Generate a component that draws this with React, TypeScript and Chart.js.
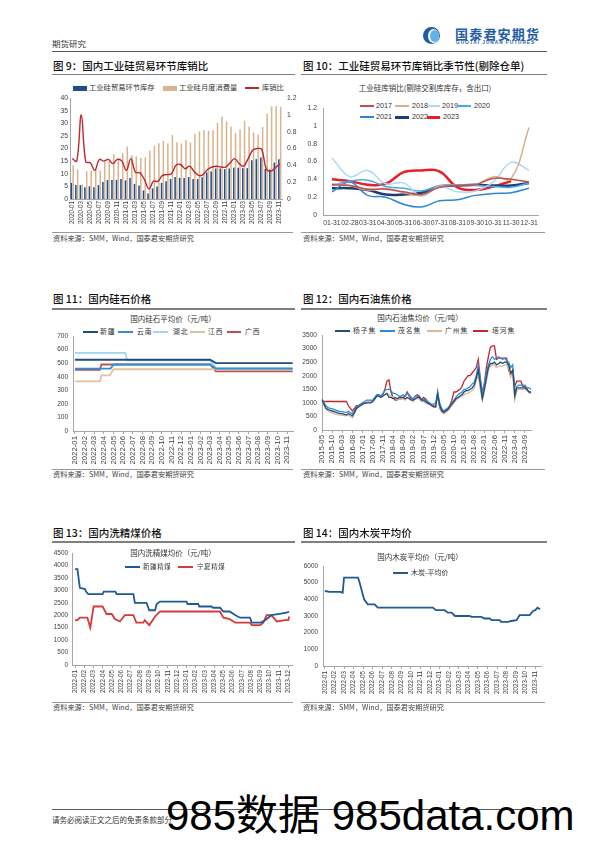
import React, { useEffect, useRef } from 'react';
import { Chart, registerables } from 'chart.js';
Chart.register(...registerables);

const NUM = "'Liberation Sans', Arial, sans-serif";
const CJK = "'Noto Sans CJK SC', 'Liberation Sans', sans-serif";
const AXIS = '#404040';
const BORDER = '#a6a6a6';

function monthSeq(y: number, m: number, n: number): string[] {
  const out: string[] = [];
  for (let i = 0; i < n; i++) {
    const t = m - 1 + i;
    out.push(`${y + Math.floor(t / 12)}-${String((t % 12) + 1).padStart(2, '0')}`);
  }
  return out;
}
function monthIdx(d: string, baseYear: number): number {
  const [y, m, day] = d.split('-').map(Number);
  const dim = new Date(y, m, 0).getDate();
  return (y - baseYear) * 12 + (m - 1) + (day - 1) / dim;
}
function pts(dates: string[], vals: number[]) {
  return dates.map((d, i) => ({ x: monthIdx(d, 2022), y: vals[i] }));
}

// ---------------- Chart 9 ----------------
const c9Months = monthSeq(2020, 1, 47);
const c9Inventory = [6.4, 5.5, 5.5, 4.7, 5.0, 4.7, 5.5, 6.7, 7.5, 7.5, 7.6, 7.9, 7.4, 8.3, 6.0, 5.3, 3.4, 2.2, 4.2, 5.0, 6.4, 7.0, 7.9, 8.7, 8.4, 8.3, 8.7, 7.9, 7.9, 8.6, 10.5, 10.9, 12.1, 12.1, 11.8, 12.1, 12.4, 12.4, 12.2, 12.2, 15.3, 15.8, 16.4, 12.0, 11.7, 14.4, 15.7];
const c9Consumption = [13.4, 11.7, 5.7, 11.0, 11.2, 11.5, 11.3, 14.7, 15.2, 17.8, 16.0, 18.2, 20.8, 17.3, 16.9, 16.3, 16.5, 19.2, 21.1, 22.1, 23.0, 22.1, 25.4, 22.5, 22.0, 23.4, 22.4, 25.8, 26.8, 27.3, 27.0, 27.2, 30.2, 32.6, 30.8, 28.7, 26.2, 27.6, 31.0, 28.7, 26.3, 25.5, 28.5, 33.8, 36.7, 36.8, 36.5];
const c9Ratio = [0.48, 0.45, 1.0, 0.44, 0.43, 0.34, 0.47, 0.45, 0.47, 0.42, 0.47, 0.45, 0.34, 0.48, 0.32, 0.31, 0.23, 0.12, 0.21, 0.21, 0.28, 0.29, 0.30, 0.40, 0.41, 0.36, 0.39, 0.33, 0.28, 0.29, 0.35, 0.38, 0.39, 0.38, 0.38, 0.43, 0.48, 0.42, 0.39, 0.48, 0.58, 0.60, 0.59, 0.36, 0.33, 0.37, 0.42];

// ---------------- Chart 10 ----------------
const c10Labels = ['01-31', '02-28', '03-31', '04-30', '05-31', '06-30', '07-31', '08-31', '09-30', '10-31', '11-30', '12-31'];
const c10Y2017 = [0.34, 0.33, 0.29, 0.29, 0.26, 0.23, 0.31, 0.33, 0.34, 0.41, 0.40, 0.37];
const c10Y2018 = [0.35, 0.33, 0.28, 0.30, 0.25, 0.22, 0.32, 0.33, 0.34, 0.43, 0.41, 0.98];
const c10Y2019 = [0.64, 0.43, 0.50, 0.35, 0.36, 0.21, 0.32, 0.26, 0.27, 0.37, 0.59, 0.50];
const c10Y2020 = [0.33, 0.38, 0.39, 0.32, 0.30, 0.27, 0.33, 0.34, 0.33, 0.32, 0.31, 0.36];
const c10Y2021 = [0.26, 0.37, 0.22, 0.20, 0.12, 0.09, 0.16, 0.17, 0.22, 0.24, 0.25, 0.30];
const c10Y2022 = [0.30, 0.30, 0.28, 0.23, 0.23, 0.25, 0.32, 0.33, 0.34, 0.33, 0.33, 0.36];
const c10Y2023 = [0.40, 0.38, 0.34, 0.35, 0.48, 0.50, 0.49, 0.31, 0.28, 0.32, 0.38, null];

// ---------------- Chart 11 ----------------
const c11Ticks = monthSeq(2022, 1, 23);
const c11XinjiangDates = ['2022-01-01', '2023-03-01', '2023-03-20', '2023-11-18'];
const c11XinjiangVals = [525, 525, 500, 500];
const c11YunnanDates = ['2022-01-01', '2022-04-22', '2022-05-01', '2023-03-01', '2023-03-20', '2023-11-18'];
const c11YunnanVals = [460, 460, 490, 490, 460, 460];
const c11HubeiDates = ['2022-01-01', '2022-06-07', '2022-06-14', '2023-03-01', '2023-03-20', '2023-11-18'];
const c11HubeiVals = [575, 575, 520, 520, 465, 465];
const c11JiangxiDates = ['2022-01-01', '2022-03-19', '2022-03-24', '2022-04-19', '2022-05-01', '2023-11-18'];
const c11JiangxiVals = [365, 365, 410, 410, 455, 455];
const c11GuangxiDates = ['2022-01-01', '2022-03-19', '2022-03-24', '2023-03-01', '2023-03-20', '2023-11-18'];
const c11GuangxiVals = [450, 450, 490, 490, 440, 440];

// ---------------- Chart 12 ----------------
const c12Months = monthSeq(2015, 5, 104);
const c12Yangzi = [1100, 950, 800, 750, 720, 700, 680, 650,
  620, 600, 600, 580, 560, 600, 560, 520, 650, 800, 850, 900,
  950, 980, 1000, 1000, 1000, 1050, 1150, 1250, 1250, 1200, 1250, 1300,
  1350, 1200, 1200, 1150, 1200, 1150, 1200, 1200, 1200, 1150, 1200, 1150,
  1100, 1100, 1150, 1200, 1200, 1100, 1100, 1050, 1000, 950, 900, 850,
  850, 1300, 900, 700, 650, 700, 750, 850, 950, 1050, 1150, 1200,
  1250, 1300, 1400, 1450, 1450, 1500, 1550, 1650, 1900, 2200, 1700, 1150,
  1500, 1900, 2300, 2450, 2450, 2500, 2400, 2450, 2500, 2450, 2500, 2500,
  2400, 2100, 2200, 1250, 1550, 1550, 1550, 1550, 1550, 1500, 1400, 1400];
const c12Maoming = [1150, 1000, 880, 820, 800, 780, 760, 720,
  700, 680, 680, 660, 650, 680, 640, 600, 700, 850, 900, 950,
  1000, 1050, 1100, 1100, 1100, 1100, 1200, 1300, 1300, 1250, 1350, 1450,
  1500, 1500, 1450, 1350, 1350, 1300, 1250, 1250, 1300, 1250, 1350, 1300,
  1200, 1150, 1250, 1250, 1200, 1150, 1150, 1100, 1050, 1000, 950, 950,
  1000, 1400, 1000, 800, 700, 750, 800, 900, 1000, 1100, 1200, 1300,
  1350, 1400, 1500, 1500, 1550, 1600, 1700, 1750, 2000, 2400, 1900, 1300,
  1700, 2100, 2400, 2600, 2700, 2600, 2650, 2700, 2650, 2600, 2650, 2550,
  2500, 2300, 2400, 1400, 1600, 1650, 1650, 1650, 1650, 1550, 1550, 1500];
const c12Guangzhou = [1050, 900, 750, 700, 650, 630, 600, 580,
  560, 550, 540, 530, 520, 550, 500, 450, 600, 750, 850, 900,
  950, 1000, 1000, 1050, 1050, 1050, 1200, 1250, 1250, 1200, 1250, 1300,
  1350, 1300, 1250, 1200, 1200, 1100, 1150, 1150, 1150, 1100, 1200, 1150,
  1100, 1050, 1150, 1150, 1150, 1050, 1050, 1000, 950, 950, 900, 850,
  850, 1250, 850, 650, 600, 650, 700, 800, 900, 1000, 1100, 1150,
  1200, 1250, 1300, 1350, 1350, 1400, 1450, 1550, 1800, 2000, 1500, 1100,
  1400, 1800, 2200, 2350, 2400, 2400, 2300, 2350, 2350, 2350, 2400, 2400,
  2300, 1950, 2100, 1100, 1450, 1500, 1500, 1500, 1500, 1450, 1400, 1350];
const c12Tahe = [1050, 1050, 1050, 1050, 1050, 1050, 1050, 1050,
  1050, 1050, 1050, 1050, 1050, 900, 800, 700, 800, 900, 900, 950,
  1000, 1000, 1000, 1050, 1050, 1050, 1150, 1250, 1300, 1250, 1300, 1500,
  1800, 1850, 1400, 1200, 1100, 1100, 1150, 1150, 1200, 1250, 1400, 1250,
  1150, 1150, 1250, 1300, 1250, 1100, 1200, 1150, 1050, 1000, 900, 900,
  850, 1400, 800, 700, 700, 750, 800, 900, 1100, 1400, 1400, 1450,
  1500, 1600, 1800, 1900, 2000, 2000, 2100, 2200, 2300, 2600, 1900, 1400,
  1700, 2300, 2700, 3050, 3100, 3100, 2600, 2650, 2650, 2650, 2650, 2650,
  2200, 2000, 2200, 1600, 1800, 1800, 1800, 1600, 1600, 1500, 1400, 1350];

// ---------------- Chart 13 ----------------
const c13Ticks = monthSeq(2022, 1, 24);
const c13XinjiangDates = ['2022-01-01', '2022-01-09', '2022-01-17', '2022-02-03', '2022-02-06', '2022-02-13', '2022-03-31', '2022-04-04', '2022-05-12', '2022-05-16', '2022-07-10', '2022-07-15', '2022-08-23', '2022-09-01', '2022-09-20', '2022-09-25', '2022-10-06', '2023-01-02', '2023-01-05', '2023-02-09', '2023-02-12', '2023-03-24', '2023-03-28', '2023-04-20', '2023-05-01', '2023-05-22', '2023-06-10', '2023-06-25', '2023-07-28', '2023-08-03', '2023-09-01', '2023-09-10', '2023-09-21', '2023-10-06', '2023-11-03', '2023-11-25', '2023-12-04'];
const c13XinjiangVals = [3850, 3850, 3100, 3050, 2950, 2850, 2850, 2950, 2950, 2850, 2850, 2500, 2500, 2200, 2200, 2450, 2550, 2550, 2450, 2450, 2350, 2350, 2300, 2300, 2150, 2150, 2000, 1900, 1900, 1700, 1700, 1750, 1850, 2000, 2050, 2100, 2150];
const c13NingxiaDates = ['2022-01-01', '2022-01-09', '2022-01-17', '2022-02-10', '2022-02-19', '2022-03-01', '2022-03-31', '2022-04-13', '2022-04-30', '2022-05-10', '2022-05-27', '2022-06-12', '2022-07-10', '2022-07-20', '2022-08-12', '2022-08-17', '2022-09-01', '2022-09-20', '2022-10-06', '2023-04-20', '2023-05-01', '2023-05-20', '2023-06-10', '2023-07-28', '2023-08-03', '2023-08-31', '2023-09-10', '2023-09-21', '2023-10-06', '2023-10-25', '2023-11-20', '2023-12-01', '2023-12-04'];
const c13NingxiaVals = [1800, 1800, 1900, 1900, 1500, 2350, 2350, 2050, 2050, 1850, 1750, 2000, 2000, 1700, 1700, 1800, 1600, 1950, 2150, 2150, 1900, 1850, 1700, 1700, 1600, 1600, 1700, 2000, 2000, 1750, 1800, 1800, 1950];

// ---------------- Chart 14 ----------------
const c14Ticks = monthSeq(2022, 1, 23);
const c14Dates = ['2022-01-01', '2022-01-16', '2022-02-18', '2022-02-25', '2022-03-01', '2022-04-15', '2022-04-20', '2022-05-04', '2022-05-16', '2022-06-07', '2022-06-17', '2022-12-10', '2022-12-20', '2023-01-17', '2023-01-28', '2023-02-08', '2023-02-18', '2023-04-05', '2023-04-11', '2023-05-12', '2023-05-22', '2023-06-08', '2023-06-14', '2023-07-10', '2023-07-14', '2023-08-06', '2023-08-16', '2023-09-02', '2023-09-12', '2023-10-14', '2023-10-25', '2023-11-01', '2023-11-08', '2023-11-16'];
const c14Vals = [4500, 4450, 4450, 4400, 5300, 5300, 5000, 4000, 3700, 3700, 3500, 3500, 3350, 3350, 3200, 3200, 3000, 3000, 2950, 2950, 2850, 2850, 2750, 2750, 2650, 2650, 2700, 2750, 3050, 3050, 3300, 3350, 3500, 3400];

// ---------------- helpers ----------------
const fitX = (h: number) => (s: any) => { s.height = h; s.paddingLeft = 0; s.paddingRight = 0; };
const fitY = (w: number) => (s: any) => { s.width = w; s.paddingTop = 0; s.paddingBottom = 0; };
const plainNum = (v: any) => String(Math.round(Number(v) * 1000) / 1000);

function yAxis(o: any) {
  return {
    type: 'linear', position: o.pos || 'left', min: o.min, max: o.max,
    ticks: { stepSize: o.step, padding: o.pad, color: AXIS, font: { family: NUM, size: o.size }, callback: plainNum },
    grid: { display: false, drawTicks: false },
    border: { display: o.border !== false, color: BORDER },
    afterFit: fitY(o.w),
  };
}
function xRot(o: any) {
  return {
    type: o.type, min: o.min, max: o.max, offset: o.offset,
    ticks: {
      autoSkip: false, maxRotation: 90, minRotation: 90, padding: 2, color: AXIS,
      font: { family: NUM, size: o.size }, callback: o.cb, stepSize: o.step, includeBounds: false,
    },
    grid: { display: !!o.marks, drawOnChartArea: false, drawTicks: !!o.marks, tickLength: 3, color: o.gridColor || BORDER },
    border: { display: true, color: BORDER },
    afterFit: fitX(o.h),
  };
}
const intLabel = (arr: string[]) => (v: number) => {
  const i = Math.round(v);
  return Math.abs(v - i) < 1e-6 && arr[i] ? arr[i] : '';
};
const baseOpts = (pad: any) => ({
  responsive: false, animation: false,
  layout: { padding: pad },
  plugins: { legend: { display: false }, tooltip: { enabled: false } },
});
const ln = (label: string, data: any, color: string, w = 1.5, extra: any = {}) => ({
  type: 'line', label, data, borderColor: color, backgroundColor: color, borderWidth: w, pointRadius: 0, fill: false, ...extra,
});

function cfg9() {
  return {
    type: 'bar',
    data: {
      labels: c9Months,
      datasets: [
        ln('库销比', c9Ratio, '#C0272D', 1.4, { yAxisID: 'y1', tension: 0.4, order: 0 }),
        { label: '工业硅贸易环节库存', data: c9Inventory, backgroundColor: '#1F4E8C', yAxisID: 'y', order: 1, categoryPercentage: 0.8, barPercentage: 0.85 },
        { label: '工业硅月度消费量', data: c9Consumption, backgroundColor: '#D9B48F', yAxisID: 'y', order: 2, categoryPercentage: 0.8, barPercentage: 0.85 },
      ],
    },
    options: {
      ...baseOpts({ top: 5, left: 0, right: 0, bottom: 0 }),
      scales: {
        x: xRot({ type: 'category', offset: true, size: 6.3, h: 28, cb: (_v: any, i: number) => (i % 2 === 0 ? c9Months[i] : '') }),
        y: yAxis({ min: 0, max: 40, step: 5, pad: 2, size: 6.8, w: 20 }),
        y1: yAxis({ pos: 'right', min: 0, max: 1.2, step: 0.2, pad: 5, size: 6.8, w: 18, border: false }),
      },
    },
  };
}

function cfg10() {
  return {
    type: 'line',
    data: {
      labels: c10Labels,
      datasets: [
        ln('2017', c10Y2017, '#C0504D', 1.5, { tension: 0.4 }),
        ln('2018', c10Y2018, '#D5B08C', 1.5, { tension: 0.4 }),
        ln('2019', c10Y2019, '#A9DAF5', 1.5, { tension: 0.4 }),
        ln('2020', c10Y2020, '#4BAAE6', 1.5, { tension: 0.4 }),
        ln('2021', c10Y2021, '#2F86D6', 1.5, { tension: 0.4 }),
        ln('2022', c10Y2022, '#1F3F73', 2.5, { tension: 0.4 }),
        ln('2023', c10Y2023, '#EE1C25', 2.5, { tension: 0.4 }),
      ],
    },
    options: {
      ...baseOpts({ top: 5, left: 0, right: 7, bottom: 0 }),
      scales: {
        x: {
          type: 'category', offset: true,
          ticks: { autoSkip: false, maxRotation: 0, minRotation: 0, padding: 4, color: AXIS, font: { family: NUM, size: 6.8 } },
          grid: { display: false, drawTicks: false },
          border: { display: true, color: BORDER },
          afterFit: fitX(15),
        },
        y: yAxis({ min: 0, max: 1.2, step: 0.2, pad: 6, size: 6.8, w: 23 }),
      },
    },
  };
}

function cfg11() {
  return {
    type: 'line',
    data: {
      datasets: [
        ln('新疆', pts(c11XinjiangDates, c11XinjiangVals), '#1F4E79', 1.8),
        ln('云南', pts(c11YunnanDates, c11YunnanVals), '#2F8FDB', 1.8),
        ln('湖北', pts(c11HubeiDates, c11HubeiVals), '#9FD6F4', 1.8),
        ln('江西', pts(c11JiangxiDates, c11JiangxiVals), '#E3C19F', 1.8),
        ln('广西', pts(c11GuangxiDates, c11GuangxiVals), '#C0504D', 1.8),
      ],
    },
    options: {
      ...baseOpts({ top: 5, left: 0, right: 3, bottom: 0 }),
      scales: {
        x: xRot({ type: 'linear', min: -0.2, max: 22.6, step: 1, size: 7.8, h: 37, marks: true, cb: intLabel(c11Ticks) }),
        y: yAxis({ min: 0, max: 700, step: 100, pad: 5, size: 6.5, w: 23 }),
      },
    },
  };
}

function cfg12() {
  return {
    type: 'line',
    data: {
      labels: c12Months,
      datasets: [
        ln('杨子焦', c12Yangzi, '#1F4E79', 1.3),
        ln('茂名焦', c12Maoming, '#2E8BDB', 1.3),
        ln('广州焦', c12Guangzhou, '#DDB892', 1.3),
        ln('塔河焦', c12Tahe, '#C0282D', 1.3),
      ],
    },
    options: {
      ...baseOpts({ top: 5, left: 0, right: 5, bottom: 0 }),
      scales: {
        x: xRot({
          type: 'category', offset: false, size: 7.8, h: 37, marks: true,
          cb: (_v: any, i: number) => (i % 5 === 0 ? c12Months[i] : ''),
          gridColor: (ctx: any) => (ctx.index % 5 === 0 ? BORDER : 'rgba(0,0,0,0)'),
        }),
        y: yAxis({ min: 0, max: 3500, step: 500, pad: 5, size: 6.6, w: 22 }),
      },
    },
  };
}

function cfg13() {
  return {
    type: 'line',
    data: {
      datasets: [
        ln('新疆精煤', pts(c13XinjiangDates, c13XinjiangVals), '#1F5A96', 1.8),
        ln('宁夏精煤', pts(c13NingxiaDates, c13NingxiaVals), '#D9383A', 1.8),
      ],
    },
    options: {
      ...baseOpts({ top: 5, left: 0, right: 3, bottom: 0 }),
      scales: {
        x: xRot({ type: 'linear', min: -0.33, max: 23.4, step: 1, size: 6.3, h: 30, marks: true, cb: intLabel(c13Ticks) }),
        y: yAxis({ min: 0, max: 4500, step: 500, pad: 4, size: 6.4, w: 22 }),
      },
    },
  };
}

function cfg14() {
  return {
    type: 'line',
    data: {
      datasets: [ln('木炭-平均价', pts(c14Dates, c14Vals), '#1F5A96', 1.8)],
    },
    options: {
      ...baseOpts({ top: 5, left: 0, right: 3, bottom: 0 }),
      scales: {
        x: xRot({ type: 'linear', min: -0.2, max: 22.6, step: 1, size: 6.3, h: 30, marks: true, cb: intLabel(c14Ticks) }),
        y: yAxis({ min: 0, max: 6000, step: 1000, pad: 5, size: 6.4, w: 23 }),
      },
    },
  };
}

// ---------------- components ----------------
function ChartCanvas({ x, y, w, h, make }: { x: number; y: number; w: number; h: number; make: () => any }) {
  const ref = useRef<HTMLCanvasElement>(null);
  useEffect(() => {
    const chart = new Chart(ref.current as HTMLCanvasElement, make());
    return () => chart.destroy();
  }, []);
  return <canvas ref={ref} width={w} height={h} style={{ position: 'absolute', left: x, top: y, width: w, height: h }} />;
}

function Txt({ x, cy, size, children, color = '#262626', weight = 400, family = CJK, center = false, ls = 0 }: any) {
  const style: any = {
    position: 'absolute', left: x, top: cy - size * 0.55, fontSize: size, lineHeight: 1, color,
    fontWeight: weight, fontFamily: family, whiteSpace: 'nowrap', letterSpacing: ls,
  };
  if (center) style.transform = 'translateX(-50%)';
  return <div style={style}>{children}</div>;
}
function HLine({ x1, x2, y, h = 1, color = '#7f7f7f' }: any) {
  return <div style={{ position: 'absolute', left: x1, top: y - h / 2, width: x2 - x1, height: h, background: color }} />;
}
function LegLine({ x, cy, w = 14, color, lw = 2 }: any) {
  return <div style={{ position: 'absolute', left: x, top: cy - lw / 2, width: w, height: lw, background: color }} />;
}
function LegBox({ x, cy, w = 14, h = 5, color }: any) {
  return <div style={{ position: 'absolute', left: x, top: cy - h / 2, width: w, height: h, background: color }} />;
}

const SOURCE = '资料来源：SMM，Wind，国泰君安期货研究';

export default function App() {
  return (
    <div style={{ position: 'absolute', left: 0, top: 0, width: 595, height: 842, background: '#fff', overflow: 'hidden' }}>
      {/* header */}
      <Txt x={52} cy={44} size={8.5} color="#333">期货研究</Txt>
      <div style={{ position: 'absolute', left: 423, top: 27, width: 17, height: 17, borderRadius: '50%', background: '#1F5CA8' }} />
      <div style={{ position: 'absolute', left: 428, top: 28.5, width: 11, height: 14, borderRadius: '50%', background: '#fff' }} />
      <div style={{ position: 'absolute', left: 430, top: 29.5, width: 9, height: 12, borderRadius: '50%', background: '#5FB4E6' }} />
      <Txt x={455} cy={34} size={13} weight={700} color="#1F5CA8" ls={1.2}>国泰君安期货</Txt>
      <Txt x={456} cy={44} size={4.8} weight={700} color="#1F5CA8" family={NUM} ls={0.95}>GUOTAI JUNAN FUTURES</Txt>
      <HLine x1={52} x2={547} y={51.5} h={1.5} color="#5a5a5a" />

      {/* ---- Chart 9 ---- */}
      <Txt x={53} cy={67} size={10.5} color="#111" weight={500}>图 9：国内工业硅贸易环节库销比</Txt>
      <HLine x1={52} x2={295} y={74.5} h={1.4} />
      <LegBox x={73} cy={88} color="#1F4E8C" />
      <Txt x={89} cy={88} size={7.3} color="#333">工业硅贸易环节库存</Txt>
      <LegBox x={163} cy={88} color="#D9B48F" />
      <Txt x={179} cy={88} size={7.3} color="#333">工业硅月度消费量</Txt>
      <LegLine x={245} cy={88} color="#C0272D" lw={1.5} />
      <Txt x={262} cy={88} size={7.3} color="#333">库销比</Txt>
      <ChartCanvas x={50} y={93} w={250} h={134} make={cfg9} />
      <HLine x1={52} x2={293} y={232} h={0.8} color="#999" />
      <Txt x={53} cy={238.5} size={7.2} color="#404040">{SOURCE}</Txt>

      {/* ---- Chart 10 ---- */}
      <Txt x={303} cy={67} size={10.5} color="#111" weight={500}>图 10：工业硅贸易环节库销比季节性(剔除仓单)</Txt>
      <HLine x1={301} x2={547} y={74.5} h={1.4} />
      <Txt x={425} cy={88} size={7.5} color="#333" center>工业硅库销比(剔除交割库库存，含出口)</Txt>
      <LegLine x={360} cy={106} color="#C0504D" />
      <Txt x={376} cy={106} size={7.2} family={NUM} color="#333">2017</Txt>
      <LegLine x={395} cy={106} color="#D5B08C" />
      <Txt x={412} cy={106} size={7.2} family={NUM} color="#333">2018</Txt>
      <LegLine x={428} cy={106} w={12} color="#A9DAF5" />
      <Txt x={442} cy={106} size={7.2} family={NUM} color="#333">2019</Txt>
      <LegLine x={457} cy={106} color="#4BAAE6" />
      <Txt x={474} cy={106} size={7.2} family={NUM} color="#333">2020</Txt>
      <LegLine x={360} cy={117} color="#2F86D6" />
      <Txt x={376} cy={117} size={7.2} family={NUM} color="#333">2021</Txt>
      <LegLine x={395} cy={117} color="#1F3F73" lw={3} />
      <Txt x={412} cy={117} size={7.2} family={NUM} color="#333">2022</Txt>
      <LegLine x={427} cy={117} w={13} color="#EE1C25" lw={3} />
      <Txt x={443} cy={117} size={7.2} family={NUM} color="#333">2023</Txt>
      <ChartCanvas x={300} y={103} w={245} h={127} make={cfg10} />
      <HLine x1={301} x2={545} y={232} h={0.8} color="#999" />
      <Txt x={303} cy={238.5} size={7.2} color="#404040">{SOURCE}</Txt>

      {/* ---- Chart 11 ---- */}
      <Txt x={53} cy={300} size={10.5} color="#111" weight={500}>图 11：国内硅石价格</Txt>
      <HLine x1={52} x2={295} y={309} h={1.4} />
      <Txt x={173} cy={319} size={7.5} color="#333" center>国内硅石平均价（元/吨）</Txt>
      <LegLine x={83} cy={332} w={15} color="#1F4E79" />
      <Txt x={100} cy={332} size={6.8} color="#333" ls={1}>新疆</Txt>
      <LegLine x={118} cy={332} w={15} color="#2F8FDB" />
      <Txt x={137} cy={332} size={6.8} color="#333" ls={1}>云南</Txt>
      <LegLine x={153} cy={332} w={15} color="#9FD6F4" />
      <Txt x={173} cy={332} size={6.8} color="#333" ls={1}>湖北</Txt>
      <LegLine x={190} cy={332} w={15} color="#E3C19F" />
      <Txt x={208} cy={332} size={6.8} color="#333" ls={1}>江西</Txt>
      <LegLine x={227} cy={332} w={14} color="#C0504D" />
      <Txt x={245} cy={332} size={6.8} color="#333" ls={1}>广西</Txt>
      <ChartCanvas x={50} y={331} w={246} h={137} make={cfg11} />
      <HLine x1={52} x2={293} y={469.5} h={0.8} color="#999" />
      <Txt x={53} cy={475} size={7.2} color="#404040">{SOURCE}</Txt>

      {/* ---- Chart 12 ---- */}
      <Txt x={303} cy={300} size={10.5} color="#111" weight={500}>图 12：国内石油焦价格</Txt>
      <HLine x1={301} x2={547} y={309} h={1.4} />
      <Txt x={420} cy={318} size={7.5} color="#333" center>国内石油焦均价（元/吨）</Txt>
      <LegLine x={335} cy={331} w={15} color="#1F4E79" />
      <Txt x={353} cy={331} size={6.8} color="#333" ls={1}>杨子焦</Txt>
      <LegLine x={380} cy={331} w={15} color="#2E8BDB" />
      <Txt x={398} cy={331} size={6.8} color="#333" ls={1}>茂名焦</Txt>
      <LegLine x={427} cy={331} w={15} color="#DDB892" />
      <Txt x={445} cy={331} size={6.8} color="#333" ls={1}>广州焦</Txt>
      <LegLine x={473} cy={331} w={15} color="#C0282D" />
      <Txt x={492} cy={331} size={6.8} color="#333" ls={1}>塔河焦</Txt>
      <ChartCanvas x={300} y={330} w={236} h={137} make={cfg12} />
      <HLine x1={301} x2={545} y={469.5} h={0.8} color="#999" />
      <Txt x={303} cy={475} size={7.2} color="#404040">{SOURCE}</Txt>

      {/* ---- Chart 13 ---- */}
      <Txt x={53} cy={534} size={10.5} color="#111" weight={500}>图 13：国内洗精煤价格</Txt>
      <HLine x1={52} x2={295} y={542} h={1.4} />
      <ChartCanvas x={50} y={548} w={245} h={147} make={cfg13} />
      <Txt x={173} cy={553.5} size={7.5} color="#333" center>国内洗精煤均价（元/吨）</Txt>
      <LegLine x={125} cy={567} w={15} color="#1F5A96" />
      <Txt x={143} cy={567} size={6.5} color="#333" ls={0.6}>新疆精煤</Txt>
      <LegLine x={178} cy={567} w={15} color="#D9383A" />
      <Txt x={197} cy={567} size={6.5} color="#333" ls={0.6}>宁夏精煤</Txt>
      <HLine x1={52} x2={293} y={702} h={0.8} color="#999" />
      <Txt x={53} cy={707.5} size={7.2} color="#404040">{SOURCE}</Txt>

      {/* ---- Chart 14 ---- */}
      <Txt x={303} cy={534} size={10.5} color="#111" weight={500}>图 14：国内木炭平均价</Txt>
      <HLine x1={301} x2={547} y={542} h={1.4} />
      <ChartCanvas x={300} y={561} w={244} h={135} make={cfg14} />
      <Txt x={420} cy={557} size={7.5} color="#333" center>国内木炭平均价（元/吨）</Txt>
      <LegLine x={393} cy={573} w={15} color="#1F5A96" />
      <Txt x={411} cy={573} size={7} color="#333">木炭-平均价</Txt>
      <HLine x1={301} x2={545} y={702} h={0.8} color="#999" />
      <Txt x={303} cy={707.5} size={7.2} color="#404040">{SOURCE}</Txt>

      {/* footer */}
      <HLine x1={52} x2={548} y={809} h={1} color="#5a5a5a" />
      <Txt x={52} cy={820} size={7.5} color="#333">请务必阅读正文之后的免责条款部分</Txt>
      <Txt x={543} cy={820} size={8} family={NUM} color="#333">5</Txt>
      <div style={{ position: 'absolute', left: 166, top: 794.5, fontSize: 42, lineHeight: 1, fontFamily: "'Liberation Sans', 'Noto Sans CJK SC', sans-serif", color: '#000', whiteSpace: 'nowrap' }}>985数据 985data.com</div>
    </div>
  );
}
